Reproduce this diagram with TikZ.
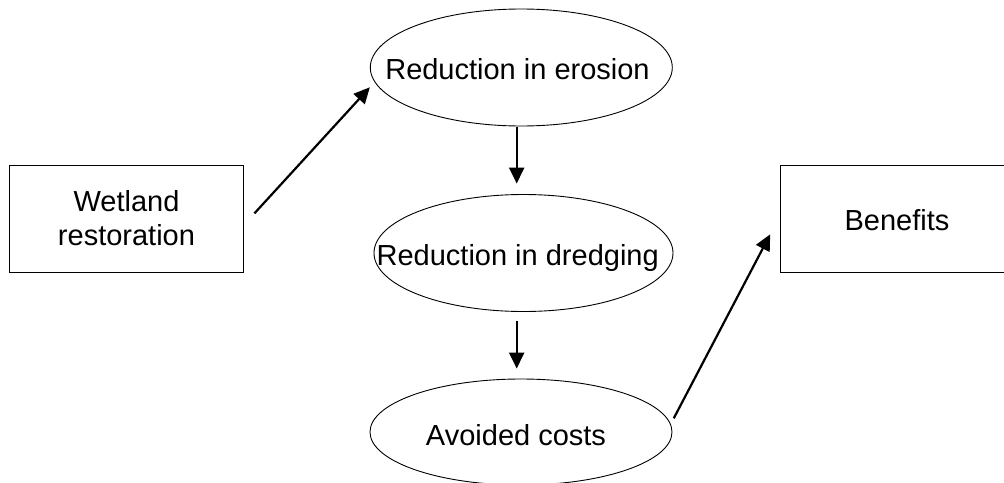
\documentclass[tikz,border=0pt]{standalone}
\usepackage{fontspec}
\setmainfont{Liberation Sans}
\usetikzlibrary{shapes.geometric,arrows.meta}
\begin{document}
\begin{tikzpicture}[x=1pt,y=-1pt,
  box/.style={draw,line width=1pt,minimum width=234pt,minimum height=107pt,inner sep=0pt,align=center,font=\fontsize{29}{34}\selectfont},
  ell/.style={draw,ellipse,line width=0.9pt,inner sep=0pt},
  lbl/.style={anchor=base,inner sep=0pt,font=\fontsize{29}{34}\selectfont},
  arr/.style={line width=2.2pt,-{Triangle[length=16pt,width=15pt]}}]
\fill[white] (0,0) rectangle (1004,482);
\useasboundingbox (0,0) rectangle (1004,482);
\node[box] (wet) at (126.5,218.5) {Wetland\\restoration};
\node[box,minimum width=250pt] (ben) at (905,218.5) {};
\node[lbl] (benT) at (897,230) {Benefits};
\node[ell,minimum width=302pt,minimum height=117pt] (ero) at (521.3,67.5) {};
\node[ell,minimum width=299pt,minimum height=117pt] (dre) at (523.5,253) {};
\node[ell,minimum width=302pt,minimum height=106pt] (avo) at (521,432) {};
\node[lbl] (eroT) at (517.5,79) {Reduction in erosion};
\node[lbl] (dreT) at (517.7,265) {Reduction in dredging};
\node[lbl] (avoT) at (516,445) {Avoided costs};
\draw[arr] ([xshift=10.5pt,yshift=5.2pt]wet.east) -- ([yshift=-19.8pt]ero.west);
\draw[arr] ([xshift=-4.6pt,yshift=-0.5pt]ero.south) -- ([xshift=-6.8pt,yshift=10.5pt]dre.north);
\draw[arr] ([xshift=-6.8pt,yshift=-9.5pt]dre.south) -- ([xshift=-4.3pt,yshift=10pt]avo.north);
\draw[arr] ([xshift=1.3pt,yshift=13.7pt]avo.east) -- ([xshift=-9.3pt,yshift=-15.8pt]ben.west);
\end{tikzpicture}
\end{document}
